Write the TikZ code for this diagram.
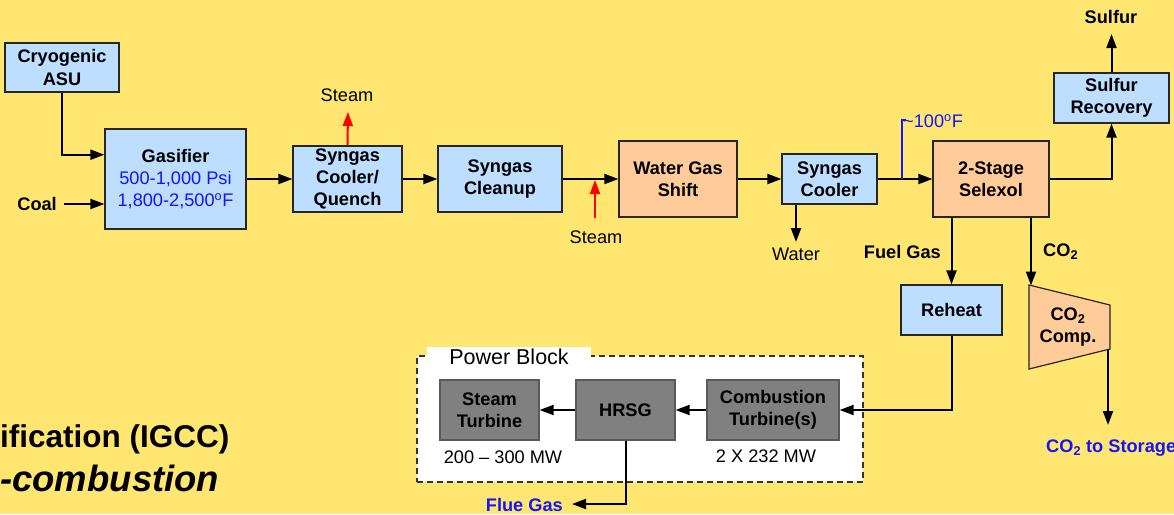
\documentclass[tikz,border=0pt]{standalone}
\usepackage{fontspec}
\setmainfont{Liberation Sans}
\usetikzlibrary{arrows.meta,calc}
\definecolor{bgyellow}{RGB}{255,230,112}
\definecolor{boxblue}{RGB}{189,222,255}
\definecolor{boxorange}{RGB}{255,204,153}
\definecolor{boxgray}{RGB}{128,128,128}
\definecolor{txtblue}{RGB}{20,20,255}
\newcommand\boxfont{\fontsize{18.2}{22.3}\selectfont\bfseries}
\newcommand\regfont{\fontsize{18.2}{22.3}\selectfont\mdseries}
\tikzset{
  box/.style={draw=black!85, line width=1.2pt, align=center, font=\boxfont, inner sep=0pt},
  bluebox/.style={box, fill=boxblue},
  orangebox/.style={box, fill=boxorange},
  graybox/.style={box, fill=boxgray, draw=black!65},
  arr/.style={line width=2pt, -{Triangle[length=14pt,width=10pt]}},
  redarr/.style={arr, draw=red},
  txt/.style={font=\regfont, inner sep=0pt},
  btxt/.style={font=\boxfont, inner sep=0pt},
  bluetxt/.style={btxt, text=txtblue},
}
\begin{document}
\begin{tikzpicture}[x=1pt,y=-1pt]
\useasboundingbox (0,0) rectangle (1174,514);
\fill[bgyellow] (0,0) rectangle (1174,514);

% title fragments
\node[font=\fontsize{31.5}{36}\selectfont\bfseries, inner sep=0pt, anchor=base west] (title1) at (0,447) {ification (IGCC)};
\node[font=\fontsize{36.5}{42}\selectfont\bfseries\itshape, inner sep=0pt, anchor=base west] (title2) at (0,491) {-combustion};

% power block
\node[draw=black!80, line width=1.4pt, dash pattern=on 6pt off 4pt, fill=white, minimum width=446pt, minimum height=126pt, inner sep=0pt] (pb) at (640,419) {};
\node[fill=white, font=\fontsize{21.5}{24}\selectfont, minimum width=164pt, inner xsep=0pt, inner ysep=2pt, anchor=north] (pblabel) at (509,346.5) {Power Block};

% boxes
\node[bluebox, minimum width=114pt, minimum height=49pt] (asu) at (62,67.5) {Cryogenic\\ASU};
\node[bluebox, minimum width=141pt, minimum height=100pt] (gas) at (175.5,179) {Gasifier\\{\regfont\color{txtblue}500-1,000 Psi}\\{\regfont\color{txtblue}1,800-2,500\textsuperscript{o}F}};
\node[bluebox, minimum width=109pt, minimum height=66pt] (quench) at (347.5,179) {Syngas\\Cooler/\\Quench};
\node[bluebox, minimum width=124pt, minimum height=66pt] (cleanup) at (500,179) {Syngas\\Cleanup};
\node[orangebox, minimum width=118pt, minimum height=76pt] (wgs) at (678,179) {Water Gas\\Shift};
\node[bluebox, minimum width=95pt, minimum height=50pt] (cooler) at (829.5,179) {Syngas\\Cooler};
\node[orangebox, minimum width=116pt, minimum height=76pt] (selexol) at (991,179) {2-Stage\\Selexol};
\node[bluebox, minimum width=115pt, minimum height=50pt] (sulfrec) at (1111.5,98) {Sulfur\\Recovery};
\node[bluebox, minimum width=101pt, minimum height=50pt] (reheat) at (951.5,310) {Reheat};
\node[graybox, minimum width=99pt, minimum height=60pt] (st) at (489.5,410) {Steam\\Turbine};
\node[graybox, minimum width=99pt, minimum height=60pt] (hrsg) at (625.5,410) {HRSG};
\node[graybox, minimum width=132pt, minimum height=60pt] (ct) at (773,410) {Combustion\\Turbine(s)};

% CO2 compressor (trapezoid)
\coordinate (c1) at (1029,285);
\coordinate (c2) at (1110,305);
\coordinate (c3) at (1110,349);
\coordinate (c4) at (1029,369);
\fill[boxorange] (c1) -- (c2) -- (c3) -- (c4) -- cycle;
\draw[black!85, line width=1.2pt] (c1) -- (c2) -- (c3) -- (c4) -- cycle;
\node[btxt, align=center] (comp) at (1068,327) {CO\textsubscript{2}\\Comp.};
\coordinate (comptop) at (1031,285.5);
\coordinate (compout) at (1108,349.5);

% labels
\node[btxt, anchor=east] (coal) at (57,204) {Coal};
\node[txt] (steam1) at (347,95) {Steam};
\node[txt] (steam2) at (596,237) {Steam};
\node[txt] (water) at (796,254) {Water};
\node[btxt] (sulfur) at (1111,17) {Sulfur};
\node[btxt, anchor=east] (fuelgas) at (941,252) {Fuel Gas};
\node[btxt, anchor=west] (co2) at (1043,252) {CO\textsubscript{2}};
\node[bluetxt, anchor=west] (storage) at (1046,448) {CO\textsubscript{2} to Storage};
\node[bluetxt, anchor=east] (flue) at (563,505) {Flue Gas};
\node[txt] (stmw) at (503,457) {200 -- 300 MW};
\node[txt] (ctmw) at (766,456) {2 X 232 MW};
\node[txt, text=txtblue, anchor=west] (temp) at (903,121) {\textasciitilde100\textsuperscript{o}F};

% free-end coordinates
\coordinate (coalstart) at (64,204);
\coordinate (s1tip) at (348,112);
\coordinate (s2start) at (595,218);
\coordinate (s2tip) at (595,180);
\coordinate (wtip) at (796,242);
\coordinate (sulfurtip) at (1111.5,34);
\coordinate (storetip) at (1108,425);
\coordinate (fluetip) at (572,504);
\coordinate (tempbase) at (902,179);
\coordinate (temptop) at (902,120);

% connectors
\draw[arr] (asu.south) |- ($(gas.north west)!0.26!(gas.south west)$);
\draw[arr] (coalstart) -- (coalstart -| gas.west);
\draw[arr] (gas.east) -- (quench.west);
\draw[redarr] (quench.north) -- (s1tip);
\draw[arr] (quench.east) -- (cleanup.west);
\draw[arr] (cleanup.east) -- (wgs.west);
\draw[redarr] (s2start) -- (s2tip);
\draw[arr] (wgs.east) -- (cooler.west);
\draw[arr] (cooler.south -| wtip) -- (wtip);
\draw[arr] (cooler.east) -- (selexol.west);
\draw[txtblue, line width=2pt] (tempbase) -- (temptop) -- ++(4,0);
\draw[arr] (selexol.east) -| (sulfrec.south);
\draw[arr] (sulfrec.north) -- (sulfurtip);
\draw[arr] (selexol.south -| reheat.north) -- (reheat.north);
\draw[arr] (selexol.south -| comptop) -- (comptop);
\draw[arr] (compout) -- (storetip);
\draw[arr] (reheat.south) |- (ct.east);
\draw[arr] (ct.west) -- (hrsg.east);
\draw[arr] (hrsg.west) -- (st.east);
\draw[arr] (hrsg.south) |- (fluetip);
\end{tikzpicture}
\end{document}
